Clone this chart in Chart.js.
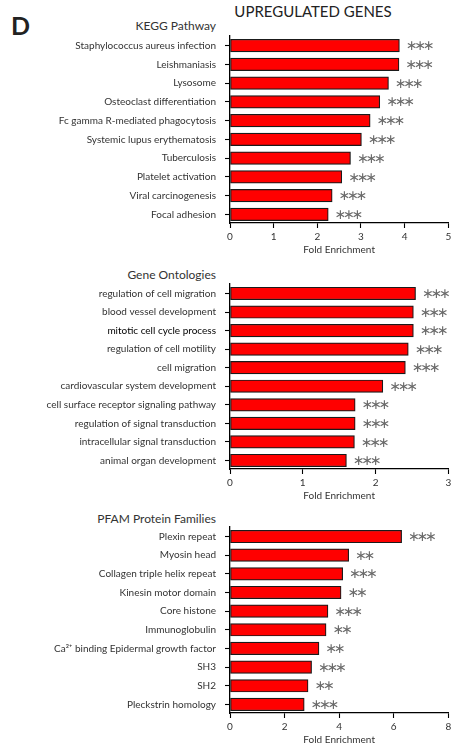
<!DOCTYPE html>
<html>
<head>
<meta charset="utf-8">
<script src="https://cdn.jsdelivr.net/npm/chart.js@4"></script>
<style>
  body { margin: 0; background: #fff; width: 452px; height: 747px; position: relative; overflow: hidden; font-family: Lato, sans-serif; color: #333; }
  canvas.panel { position: absolute; left: 0; }
  .t { position: absolute; white-space: nowrap; line-height: 1; }
</style>
</head>
<body>
<div class="t" style="left:11px; top:10px; font: bold 25px Lato; color:#222;">D</div>
<div class="t" style="left:213px; width:200px; text-align:center; top:2px; font: 15px Lato; color:#222;">UPREGULATED GENES</div>
<div class="t" style="right:236px; top:17.5px; font: 12px Lato;">KEGG Pathway</div>
<div class="t" style="right:236px; top:266.5px; font: 12px Lato;">Gene Ontologies</div>
<div class="t" style="right:236px; top:510.5px; font: 12px Lato;">PFAM Protein Families</div>

<canvas class="panel" id="kegg" width="452" height="226" style="top:30px"></canvas>
<canvas class="panel" id="go" width="452" height="224" style="top:278px"></canvas>
<canvas class="panel" id="pfam" width="452" height="225" style="top:521px"></canvas>

<script>
// KEGG pathways
const keggCats = [
  'Staphylococcus aureus infection', 'Leishmaniasis', 'Lysosome', 'Osteoclast differentiation',
  'Fc gamma R-mediated phagocytosis', 'Systemic lupus erythematosis', 'Tuberculosis',
  'Platelet activation', 'Viral carcinogenesis', 'Focal adhesion'
];
const keggVals = [3.88, 3.87, 3.63, 3.43, 3.21, 3.01, 2.76, 2.56, 2.34, 2.25];
const keggStars = ['***', '***', '***', '***', '***', '***', '***', '***', '***', '***'];
const keggTicks = [0, 1, 2, 3, 4, 5];

// Gene ontology terms
const goCats = [
  'regulation of cell migration', 'blood vessel development', 'mitotic cell cycle process',
  'regulation of cell motility', 'cell migration', 'cardiovascular system development',
  'cell surface receptor signaling pathway', 'regulation of signal transduction',
  'intracellular signal transduction', 'animal organ development'
];
const goVals = [2.55, 2.52, 2.52, 2.45, 2.41, 2.10, 1.72, 1.72, 1.71, 1.60];
const goStars = ['***', '***', '***', '***', '***', '***', '***', '***', '***', '***'];
const goTicks = [0, 1, 2, 3];

// PFAM protein families
const pfamCats = [
  'Plexin repeat', 'Myosin head', 'Collagen triple helix repeat', 'Kinesin motor domain',
  'Core histone', 'Immunoglobulin', 'Ca\u00B2\u207A binding Epidermal growth factor',
  'SH3', 'SH2', 'Pleckstrin homology'
];
const pfamVals = [6.29, 4.35, 4.13, 4.07, 3.59, 3.52, 3.26, 2.99, 2.86, 2.72];
const pfamStars = ['***', '**', '***', '**', '***', '**', '**', '***', '**', '***'];
const pfamTicks = [0, 2, 4, 6, 8];

Chart.defaults.font.family = 'Lato, sans-serif';
Chart.defaults.color = '#333';

// significance marks drawn to the right of each bar
const starsPlugin = {
  id: 'stars',
  afterDatasetsDraw(chart, args, opts) {
    const ctx = chart.ctx;
    const meta = chart.getDatasetMeta(0);
    ctx.save();
    ctx.fillStyle = '#6a6a6a';
    ctx.font = '14px "DejaVu Sans"';
    ctx.textAlign = 'center';
    ctx.textBaseline = 'middle';
    meta.data.forEach((bar, i) => {
      const s = opts.marks[i] || '';
      for (let k = 0; k < s.length; k++) {
        ctx.fillText('\u2217', bar.x + 12.5 + k * 8.5, bar.y + 1);
      }
    });
    ctx.restore();
  }
};

// keep the plot area fixed: no extra padding for edge tick labels
function noEdgePadding(s) {
  s.paddingTop = 0;
  s.paddingBottom = 0;
  s.paddingLeft = 0;
  s.paddingRight = 0;
}

function makePanel(id, cats, vals, stars, ticks, emphasis) {
  const xMax = ticks[ticks.length - 1];
  new Chart(document.getElementById(id), {
    type: 'bar',
    data: {
      datasets: [{
        data: vals.map((v, i) => ({ x: v, y: i })),
        backgroundColor: '#ff0000',
        borderColor: '#1a1a1a',
        borderWidth: 1.2,
        borderSkipped: false,
        barThickness: 12.5
      }]
    },
    options: {
      indexAxis: 'y',
      responsive: false,
      animation: false,
      events: [],
      layout: { padding: { top: 6, right: 3.7, left: 0, bottom: 0 } },
      plugins: {
        legend: { display: false },
        tooltip: { enabled: false },
        stars: { marks: stars }
      },
      scales: {
        x: {
          type: 'linear',
          min: 0,
          max: xMax,
          offset: false,
          afterBuildTicks: s => { s.ticks = ticks.map(v => ({ value: v })); },
          afterFit: s => { s.height = 33; noEdgePadding(s); },
          ticks: { padding: 3, color: '#333', font: { size: 10 } },
          grid: { drawOnChartArea: false, offset: false, tickLength: 5, color: '#000', tickWidth: 1.1 },
          border: { color: '#000', width: 1.3 },
          title: { display: true, text: 'Fold Enrichment', color: '#333', font: { size: 10 }, padding: 0 }
        },
        y: {
          type: 'linear',
          reverse: true,
          offset: false,
          min: -0.51,
          max: 9.46,
          afterBuildTicks: s => { s.ticks = cats.map((c, i) => ({ value: i })); },
          afterFit: s => { s.width = 230; noEdgePadding(s); },
          ticks: {
            autoSkip: false,
            padding: 9,
            font: { size: 10 },
            color: c => (c.index === emphasis ? '#000' : '#333'),
            callback: v => cats[v]
          },
          grid: { drawOnChartArea: false, offset: false, tickLength: 5, color: '#000', tickWidth: 1.1 },
          border: { color: '#000', width: 1.3 }
        }
      }
    },
    plugins: [starsPlugin]
  });
}

makePanel('kegg', keggCats, keggVals, keggStars, keggTicks, -1);
makePanel('go', goCats, goVals, goStars, goTicks, 2);
makePanel('pfam', pfamCats, pfamVals, pfamStars, pfamTicks, -1);
</script>
</body>
</html>
